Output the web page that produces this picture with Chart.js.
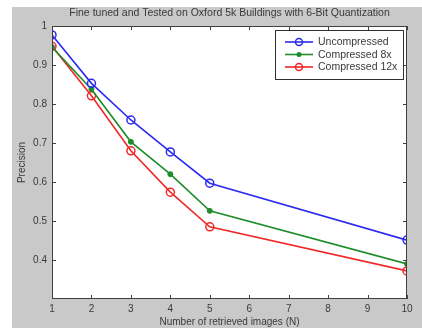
<!DOCTYPE html>
<html>
<head>
<meta charset="utf-8">
<script src="https://cdn.jsdelivr.net/npm/chart.js@4"></script>
<style>
  body { margin: 0; background: #ffffff; }
  #wrap { width: 422px; height: 328px; }
</style>
</head>
<body>
<div id="wrap"><canvas id="myChart" width="422" height="328"></canvas></div>
<script>
'use strict';

//********************* Data *************************/
let retrievedImages = [1, 2, 3, 4, 5, 10];
let uncompressed = [0.977, 0.853, 0.759, 0.677, 0.597, 0.451];
let compressed8x = [0.946, 0.838, 0.703, 0.620, 0.526, 0.390];
let compressed12x = [0.948, 0.821, 0.680, 0.574, 0.485, 0.372];
let seriesNames = ['Uncompressed', 'Compressed 8x', 'Compressed 12x'];
let xTicks = [1, 2, 3, 4, 5, 6, 7, 8, 9, 10];
let yTicks = [0.4, 0.5, 0.6, 0.7, 0.8, 0.9, 1];

let chartTitle = 'Fine tuned and Tested on Oxford 5k Buildings with 6-Bit Quantization';
let textColor = '#3a3a3a';
let fontFamily = 'Arial, "Liberation Sans", Helvetica, sans-serif';

function toPoints(values){
  let points = [];
  for(let i = 0; i < values.length; i++){
    points.push({x: retrievedImages[i], y: values[i]});
  }
  return points;
}

//********************** Plugin: figure + box + ticks + legend ****************************/
let matlabFrame = {
  id: 'matlabFrame',
  beforeDraw(chart){
    let ctx = chart.ctx;
    let area = chart.chartArea;
    ctx.save();
    ctx.fillStyle = '#c9c9c9';
    ctx.fillRect(12, 7, chart.width - 12, chart.height - 7);
    ctx.fillStyle = '#ffffff';
    ctx.fillRect(area.left, area.top, area.right - area.left, area.bottom - area.top);
    ctx.restore();
  },
  afterDatasetsDraw(chart){
    let ctx = chart.ctx;
    let area = chart.chartArea;
    let xScale = chart.scales.x;
    let yScale = chart.scales.y;
    ctx.save();
    ctx.strokeStyle = '#404040';
    ctx.lineWidth = 1;
    ctx.strokeRect(area.left + 0.5, area.top + 0.5, area.right - area.left - 1, area.bottom - area.top - 1);

    // inward ticks on all four sides
    ctx.beginPath();
    for(let i = 0; i < xTicks.length; i++){
      let px = Math.round(xScale.getPixelForValue(xTicks[i])) + 0.5;
      ctx.moveTo(px, area.bottom);
      ctx.lineTo(px, area.bottom - 4);
      ctx.moveTo(px, area.top);
      ctx.lineTo(px, area.top + 4);
    }
    for(let i = 0; i < yTicks.length; i++){
      let py = Math.round(yScale.getPixelForValue(yTicks[i])) + 0.5;
      ctx.moveTo(area.left, py);
      ctx.lineTo(area.left + 4, py);
      ctx.moveTo(area.right, py);
      ctx.lineTo(area.right - 4, py);
    }
    ctx.stroke();

    // legend box
    let boxLeft = 275;
    let boxTop = 30;
    let boxW = 128;
    let boxH = 49;
    ctx.fillStyle = '#ffffff';
    ctx.fillRect(boxLeft, boxTop, boxW, boxH);
    ctx.strokeStyle = '#303030';
    ctx.strokeRect(boxLeft + 0.5, boxTop + 0.5, boxW, boxH);

    ctx.font = '10.5px ' + fontFamily;
    ctx.textBaseline = 'middle';
    ctx.textAlign = 'left';
    let datasets = chart.data.datasets;
    for(let i = 0; i < datasets.length; i++){
      let ds = datasets[i];
      let rowY = boxTop + 12 + i * 12.5;
      ctx.strokeStyle = ds.borderColor;
      ctx.lineWidth = 1.6;
      ctx.beginPath();
      ctx.moveTo(boxLeft + 10, rowY);
      ctx.lineTo(boxLeft + 38, rowY);
      ctx.stroke();
      ctx.beginPath();
      if(ds.pointRadius > 3){
        ctx.lineWidth = ds.pointBorderWidth;
        ctx.arc(boxLeft + 24, rowY, 3.5, 0, Math.PI * 2);
        ctx.stroke();
      } else {
        ctx.fillStyle = ds.borderColor;
        ctx.arc(boxLeft + 24, rowY, 2.5, 0, Math.PI * 2);
        ctx.fill();
      }
      ctx.fillStyle = textColor;
      ctx.fillText(ds.label, boxLeft + 43, rowY + 0.5);
    }
    ctx.restore();
  }
};

//********************** Chart ****************************/
const ctx = document.getElementById('myChart').getContext('2d');

const myChart = new Chart(ctx, {
  type: 'line',
  data: {
    datasets: [{
      label: seriesNames[0],
      data: toPoints(uncompressed),
      borderColor: '#2a2af2',
      backgroundColor: '#2a2af2',
      pointStyle: 'circle',
      pointRadius: 4,
      pointBorderWidth: 1.5,
      pointBackgroundColor: 'rgba(255,255,255,0)',
      borderWidth: 1.6
    },
    {
      label: seriesNames[1],
      data: toPoints(compressed8x),
      borderColor: '#1f8c2a',
      backgroundColor: '#1f8c2a',
      pointStyle: 'circle',
      pointRadius: 2.5,
      pointBorderWidth: 1,
      pointBackgroundColor: '#1f8c2a',
      borderWidth: 1.6
    },
    {
      label: seriesNames[2],
      data: toPoints(compressed12x),
      borderColor: '#f02828',
      backgroundColor: '#f02828',
      pointStyle: 'circle',
      pointRadius: 4,
      pointBorderWidth: 1.5,
      pointBackgroundColor: 'rgba(255,255,255,0)',
      borderWidth: 1.6
    }]
  },
  options: {
    responsive: false,
    animation: false,
    layout: {
      padding: {left: 0, top: 0, right: 15, bottom: 0}
    },
    plugins: {
      legend: {display: false},
      title: {display: false},
      tooltip: {enabled: false}
    },
    elements: {
      line: {tension: 0}
    },
    scales: {
      x: {
        type: 'linear',
        position: 'bottom',
        min: 1,
        max: 10,
        afterFit: function(scale){ scale.height = 29; },
        afterBuildTicks: function(scale){
          scale.ticks = xTicks.map(function(v){ return {value: v}; });
        },
        ticks: {
          color: textColor,
          padding: 4,
          autoSkip: false,
          maxRotation: 0,
          font: {family: fontFamily, size: 10}
        },
        grid: {display: false, drawTicks: false},
        border: {display: false},
        title: {
          display: true,
          text: 'Number of retrieved images (N)',
          color: textColor,
          padding: {top: 0, bottom: 0},
          font: {family: fontFamily, size: 10}
        }
      },
      x2: {
        type: 'linear',
        position: 'top',
        min: 1,
        max: 10,
        afterFit: function(scale){ scale.height = 26; },
        ticks: {display: false},
        grid: {display: false, drawTicks: false},
        border: {display: false},
        title: {
          display: true,
          text: chartTitle,
          color: textColor,
          padding: {top: 7, bottom: 0},
          font: {family: fontFamily, size: 10.5}
        }
      },
      y: {
        type: 'linear',
        min: 0.3,
        max: 1,
        afterFit: function(scale){ scale.width = 52; },
        afterBuildTicks: function(scale){
          scale.ticks = yTicks.map(function(v){ return {value: v}; });
        },
        ticks: {
          color: textColor,
          padding: 5,
          font: {family: fontFamily, size: 10},
          callback: function(value){ return String(+value.toFixed(1)); }
        },
        grid: {display: false, drawTicks: false},
        border: {display: false},
        title: {
          display: true,
          text: 'Precision',
          color: textColor,
          padding: {top: 16, bottom: 0},
          font: {family: fontFamily, size: 10}
        }
      }
    }
  },
  plugins: [matlabFrame]
});
</script>
</body>
</html>
